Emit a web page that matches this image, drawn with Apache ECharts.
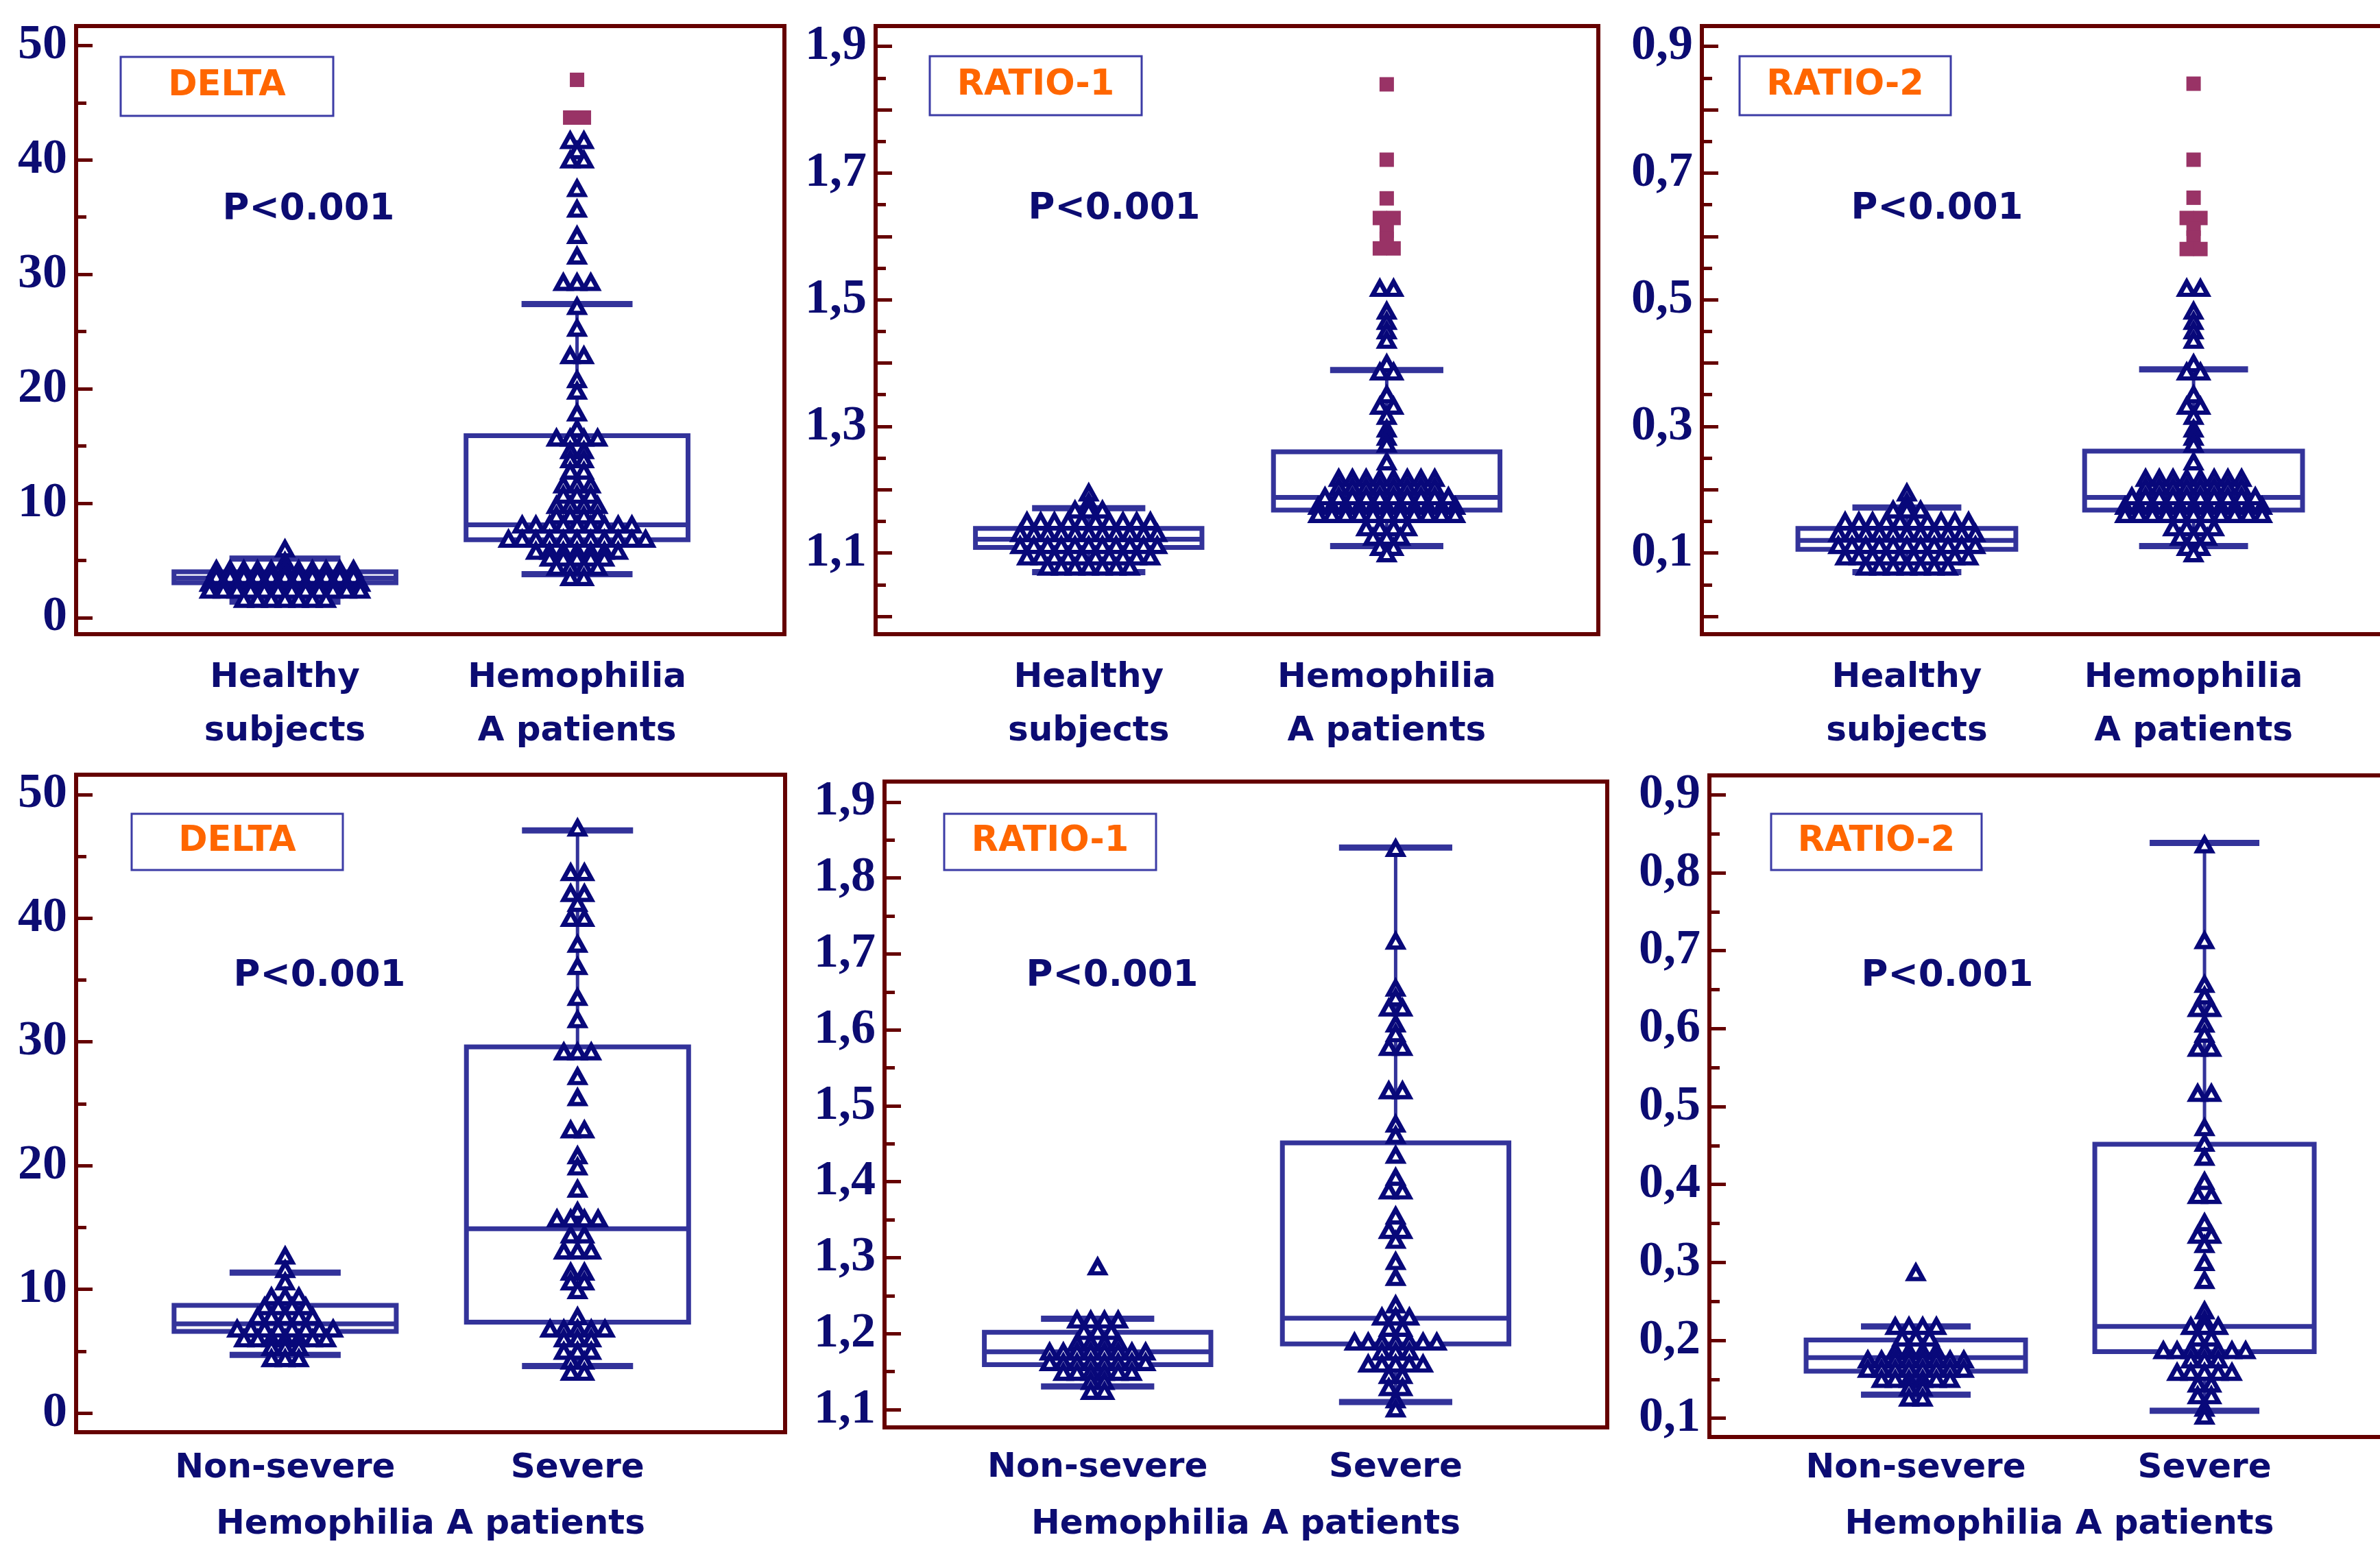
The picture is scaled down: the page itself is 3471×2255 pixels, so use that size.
<!DOCTYPE html>
<html>
<head>
<meta charset="utf-8">
<script src="https://cdn.jsdelivr.net/npm/echarts@6/dist/echarts.min.js"></script>
<style>
  html, body { margin: 0; padding: 0; background: #fff; }
  #main { width: 3471px; height: 2255px; }
</style>
</head>
<body>
<div id="main"></div>
<script>
// dot plot rows: [value, number of points side by side]
const delta1Healthy = [[6.0,1],[4.9,1],[4.2,11],[3.6,11],[3.0,12],[2.4,12],[1.6,7]];
const delta1Hemo = [[41.7,2],[40.8,1],[40.0,2],[37.5,1],[35.7,1],[33.4,1],[31.6,1],[29.3,3],[27.2,1],[25.3,1],
  [22.9,2],[20.8,1],[19.8,1],[17.9,1],[16.5,1],[15.7,4],[14.6,2],[13.8,2],[12.8,2],[11.6,3],[10.7,3],[9.8,4],
  [8.9,4],[8.1,9],[6.85,11],[5.8,7],[5.2,5],[4.4,4],[3.5,2]];
const delta1HemoOut = [[47.0,1],[43.7,2]];

const ratio1Healthy = [[1.195,1],[1.180,1],[1.168,3],[1.150,10],[1.131,11],[1.112,11],[1.094,10],[1.078,7]];
const ratio1Hemo = [[1.518,2],[1.482,1],[1.466,1],[1.451,1],[1.436,1],[1.399,1],[1.386,2],[1.350,1],[1.332,2],
  [1.316,1],[1.296,1],[1.283,1],[1.272,1],[1.244,1],[1.218,8],[1.204,8],[1.189,10],[1.174,11],[1.161,11],
  [1.140,4],[1.125,3],[1.109,2],[1.099,1]];
const ratio1HemoOut = [[1.840,1],[1.721,1],[1.660,1],[1.629,2],[1.609,1],[1.596,1],[1.581,2]];

const ratio2Healthy = [[0.195,1],[0.180,1],[0.168,3],[0.150,10],[0.131,11],[0.112,11],[0.094,10],[0.078,7]];
const ratio2Hemo = [[0.518,2],[0.482,1],[0.466,1],[0.451,1],[0.436,1],[0.399,1],[0.386,2],[0.350,1],[0.332,2],
  [0.316,1],[0.296,1],[0.283,1],[0.272,1],[0.244,1],[0.218,8],[0.204,8],[0.189,10],[0.174,11],[0.161,11],
  [0.140,4],[0.125,3],[0.109,2],[0.099,1]];
const ratio2HemoOut = [[0.841,1],[0.721,1],[0.661,1],[0.629,2],[0.612,1],[0.598,1],[0.580,2]];

const delta2NonSevere = [[12.7,1],[11.6,1],[10.6,1],[9.4,3],[8.6,4],[7.8,5],[6.8,8],[6.0,7],[5.3,3],[4.4,3]];
const delta2Severe = [[47.3,1],[43.7,2],[42.0,2],[41.2,1],[40.0,2],[37.9,1],[36.1,1],[33.6,1],[31.8,1],[29.2,3],
  [27.2,1],[25.5,1],[22.9,2],[20.8,1],[19.9,1],[18.1,1],[16.3,1],[15.7,4],[14.4,2],[13.1,3],[11.4,2],[10.6,2],
  [9.9,1],[7.8,1],[6.8,5],[6.0,3],[5.0,3],[4.2,2],[3.3,2]];

const ratio1NonSevere = [[1.288,1],[1.218,4],[1.203,3],[1.188,4],[1.176,8],[1.162,8],[1.149,6],[1.137,2],[1.124,2]];
const ratio1Severe = [[1.839,1],[1.717,1],[1.655,1],[1.642,1],[1.629,2],[1.608,1],[1.595,1],[1.577,2],[1.520,2],
  [1.476,1],[1.461,1],[1.435,1],[1.406,1],[1.388,2],[1.355,1],[1.336,2],[1.323,1],[1.295,1],[1.274,1],[1.238,1],
  [1.222,3],[1.207,2],[1.189,7],[1.176,3],[1.160,5],[1.145,2],[1.129,2],[1.113,1],[1.101,1]];

const ratio2NonSevere = [[0.287,1],[0.218,4],[0.203,3],[0.186,4],[0.175,8],[0.163,8],[0.150,6],[0.139,2],[0.126,2]];
const ratio2Severe = [[0.836,1],[0.713,1],[0.657,1],[0.642,1],[0.626,2],[0.606,1],[0.593,1],[0.575,2],[0.517,2],
  [0.473,1],[0.453,1],[0.435,1],[0.404,1],[0.386,2],[0.351,1],[0.335,2],[0.323,1],[0.300,1],[0.277,1],[0.238,1],
  [0.226,1],[0.218,3],[0.203,2],[0.187,7],[0.175,3],[0.159,5],[0.144,2],[0.129,2],[0.113,1],[0.103,1]];

// box stats: [min, q1, median, q3, max] per group
const delta1Box = [[1.4,3.05,3.45,4.0,5.15],[3.8,6.8,8.1,15.9,27.4]];
const ratio1Box = [[1.07,1.109,1.122,1.139,1.171],[1.111,1.168,1.188,1.260,1.389]];
const ratio2Box = [[0.07,0.106,0.120,0.139,0.172],[0.111,0.168,0.188,0.261,0.390]];
const delta2Box = [[4.7,6.6,7.2,8.7,11.35],[3.8,7.35,14.9,29.6,47.1]];
const ratio1SevBox = [[1.1305,1.159,1.176,1.2017,1.2196],[1.110,1.1865,1.2203,1.4512,1.840]];
const ratio2SevBox = [[0.1304,0.1604,0.1778,0.2004,0.2179],[0.1097,0.1855,0.2179,0.4517,0.8384]];

// categories
const topCats = ['Healthy\nsubjects', 'Hemophilia\nA patients'];
const bottomCats = ['Non-severe', 'Severe'];

// tick labels and tick marks
const deltaLabels = [0, 10, 20, 30, 40, 50];
const deltaMinor = [5, 15, 25, 35, 45];
const r1TopLabels = [1.1, 1.3, 1.5, 1.7, 1.9];
const r1TopMajor = [1.0, 1.1, 1.2, 1.3, 1.4, 1.5, 1.6, 1.7, 1.8, 1.9];
const r1TopMinor = [1.05, 1.15, 1.25, 1.35, 1.45, 1.55, 1.65, 1.75, 1.85];
const r2TopLabels = [0.1, 0.3, 0.5, 0.7, 0.9];
const r2TopMajor = [0, 0.1, 0.2, 0.3, 0.4, 0.5, 0.6, 0.7, 0.8, 0.9];
const r2TopMinor = [0.05, 0.15, 0.25, 0.35, 0.45, 0.55, 0.65, 0.75, 0.85];
const r1BotLabels = [1.1, 1.2, 1.3, 1.4, 1.5, 1.6, 1.7, 1.8, 1.9];
const r1BotMinor = [1.15, 1.25, 1.35, 1.45, 1.55, 1.65, 1.75, 1.85];
const r2BotLabels = [0.1, 0.2, 0.3, 0.4, 0.5, 0.6, 0.7, 0.8, 0.9];
const r2BotMinor = [0.15, 0.25, 0.35, 0.45, 0.55, 0.65, 0.75, 0.85];

// styles
const FRAME = '#650000';
const NAVY = '#0c0c72';
const BOX_COLOR = '#33339a';
const OUT_COLOR = '#993366';
const X_MIN = 0.285, X_MAX = 2.71;
const DOT_STEP = 20;

const comma = (v) => v.toFixed(1).replace('.', ',');
const plain = (v) => String(Math.round(v));

const panels = [
  { grid: { left: 111, top: 38, width: 1033, height: 887 }, yMin: -1.45, yMax: 51.7,
    labels: deltaLabels, major: deltaLabels, minor: deltaMinor, fmt: plain, cats: topCats,
    labelGap: 25, nameGap: 0,
    groups: [delta1Healthy, delta1Hemo], outliers: [[], delta1HemoOut], box: delta1Box,
    tag: 'DELTA', tagBox: [176, 83, 310, 86], p: [450, 306] },
  { grid: { left: 1277, top: 38, width: 1054, height: 887 }, yMin: 0.972, yMax: 1.932,
    labels: r1TopLabels, major: r1TopMajor, minor: r1TopMinor, fmt: comma, cats: topCats,
    labelGap: 25, nameGap: 0,
    groups: [ratio1Healthy, ratio1Hemo], outliers: [[], ratio1HemoOut], box: ratio1Box,
    tag: 'RATIO-1', tagBox: [1356, 82, 309, 86], p: [1625, 305] },
  { grid: { left: 2482, top: 38, width: 1014, height: 887 }, yMin: -0.028, yMax: 0.932,
    labels: r2TopLabels, major: r2TopMajor, minor: r2TopMinor, fmt: comma, cats: topCats,
    labelGap: 25, nameGap: 0,
    groups: [ratio2Healthy, ratio2Hemo], outliers: [[], ratio2HemoOut], box: ratio2Box,
    tag: 'RATIO-2', tagBox: [2537, 82, 308, 86], p: [2825, 305] },
  { grid: { left: 111, top: 1130, width: 1034, height: 959 }, yMin: -1.55, yMax: 51.6,
    labels: deltaLabels, major: deltaLabels, minor: deltaMinor, fmt: plain, cats: bottomCats,
    labelGap: 25, nameGap: 110,
    groups: [delta2NonSevere, delta2Severe], outliers: null, box: delta2Box,
    tag: 'DELTA', tagBox: [192, 1187, 308, 82], p: [466, 1424] },
  { grid: { left: 1290, top: 1140, width: 1054, height: 942 }, yMin: 1.0765, yMax: 1.927,
    labels: r1BotLabels, major: r1BotLabels, minor: r1BotMinor, fmt: comma, cats: bottomCats,
    labelGap: 31, nameGap: 117,
    groups: [ratio1NonSevere, ratio1Severe], outliers: null, box: ratio1SevBox,
    tag: 'RATIO-1', tagBox: [1377, 1187, 309, 82], p: [1622, 1424] },
  { grid: { left: 2493, top: 1131, width: 1021, height: 965 }, yMin: 0.076, yMax: 0.925,
    labels: r2BotLabels, major: r2BotLabels, minor: r2BotMinor, fmt: comma, cats: bottomCats,
    labelGap: 18, nameGap: 103,
    groups: [ratio2NonSevere, ratio2Severe], outliers: null, box: ratio2SevBox,
    tag: 'RATIO-2', tagBox: [2583, 1187, 307, 82], p: [2840, 1424] }
];

// spread points that share a value side by side around the group centre
function dotData(groups, step) {
  const out = [];
  groups.forEach((rows, gi) => {
    rows.forEach(([v, n]) => {
      for (let k = 0; k < n; k++) {
        out.push({ value: [gi + 1, v], symbolOffset: [(k - (n - 1) / 2) * step, 0] });
      }
    });
  });
  return out;
}

function renderBox(params, api) {
  const x = api.value(0);
  const lo = api.coord([x, api.value(1)]);
  const q1 = api.coord([x, api.value(2)]);
  const md = api.coord([x, api.value(3)]);
  const q3 = api.coord([x, api.value(4)]);
  const hi = api.coord([x, api.value(5)]);
  const bw = api.size([0.38, 0])[0];
  const cw = api.size([0.19, 0])[0];
  const line = (x1, y1, x2, y2, w) => ({
    type: 'line', shape: { x1, y1, x2, y2 }, style: { stroke: BOX_COLOR, lineWidth: w }
  });
  return {
    type: 'group',
    children: [
      line(lo[0], lo[1], lo[0], q1[1], 5),
      line(hi[0], hi[1], hi[0], q3[1], 5),
      line(lo[0] - cw, lo[1], lo[0] + cw, lo[1], 9),
      line(hi[0] - cw, hi[1], hi[0] + cw, hi[1], 9),
      { type: 'rect', shape: { x: q3[0] - bw, y: q3[1], width: 2 * bw, height: q1[1] - q3[1] },
        style: { fill: 'none', stroke: BOX_COLOR, lineWidth: 7 } },
      line(md[0] - bw, md[1], md[0] + bw, md[1], 7)
    ]
  };
}

const grids = [], xAxes = [], yAxes = [], series = [], graphics = [];
const labelFont = { color: NAVY, fontFamily: 'DejaVu Sans', fontWeight: 'bold', fontSize: 50 };

panels.forEach((p, i) => {
  const twoLine = p.cats === topCats;
  grids.push(Object.assign({ show: true, borderColor: FRAME, borderWidth: 6,
    backgroundColor: 'transparent', containLabel: false, outerBoundsMode: 'none' }, p.grid));

  xAxes.push({
    gridIndex: i, type: 'value', min: X_MIN, max: X_MAX,
    axisLine: { show: false }, axisTick: { show: false }, splitLine: { show: false },
    axisLabel: Object.assign({
      customValues: [1, 2], formatter: (v) => p.cats[Math.round(v) - 1],
      margin: p.labelGap, lineHeight: twoLine ? 78 : 56
    }, labelFont),
    name: twoLine ? '' : 'Hemophilia A patients',
    nameLocation: 'middle', nameGap: p.nameGap,
    nameTextStyle: labelFont
  });

  // labelled axis with long ticks
  yAxes.push({
    gridIndex: i, type: 'value', position: 'left', min: p.yMin, max: p.yMax,
    axisLine: { show: false }, splitLine: { show: false },
    axisTick: { show: true, inside: true, length: 24, customValues: p.major,
      lineStyle: { color: FRAME, width: 5 } },
    axisLabel: { customValues: p.labels, formatter: p.fmt, margin: 13, color: NAVY,
      fontFamily: 'Liberation Serif', fontWeight: 'bold', fontSize: 72 }
  });
  // second axis only for the short ticks
  yAxes.push({
    gridIndex: i, type: 'value', position: 'left', min: p.yMin, max: p.yMax,
    axisLine: { show: false }, splitLine: { show: false }, axisLabel: { show: false },
    axisTick: { show: true, inside: true, length: 15, customValues: p.minor,
      lineStyle: { color: FRAME, width: 5 } }
  });

  series.push({
    type: 'custom', xAxisIndex: i, yAxisIndex: 2 * i, z: 2, silent: true,
    renderItem: renderBox,
    data: p.box.map((b, gi) => [gi + 1].concat(b))
  });
  series.push({
    type: 'scatter', xAxisIndex: i, yAxisIndex: 2 * i, z: 3, silent: true,
    symbol: 'triangle', symbolSize: [21, 19],
    itemStyle: { color: '#ffffff', borderColor: '#08087a', borderWidth: 6.5, opacity: 1 },
    data: dotData(p.groups, DOT_STEP)
  });
  if (p.outliers) {
    series.push({
      type: 'scatter', xAxisIndex: i, yAxisIndex: 2 * i, z: 3, silent: true,
      symbol: 'rect', symbolSize: 21,
      itemStyle: { color: OUT_COLOR, opacity: 1 },
      data: dotData(p.outliers, 20)
    });
  }

  const [bx, by, bwid, bh] = p.tagBox;
  graphics.push({
    type: 'rect', z: 100, shape: { x: bx, y: by, width: bwid, height: bh },
    style: { fill: '#ffffff', stroke: '#3c3ca6', lineWidth: 3 }
  });
  graphics.push({
    type: 'text', z: 101, x: bx + bwid / 2, y: by + bh / 2,
    style: { text: p.tag, fill: '#ff6600', font: 'bold 51px "DejaVu Sans"',
      align: 'center', verticalAlign: 'middle' }
  });
  graphics.push({
    type: 'text', z: 101, x: p.p[0], y: p.p[1],
    style: { text: 'P<0.001', fill: NAVY, font: 'bold 53px "DejaVu Sans"',
      align: 'center', verticalAlign: 'middle' }
  });
});

const myChart = echarts.init(document.getElementById('main'));
myChart.setOption({
  animation: false,
  backgroundColor: '#ffffff',
  grid: grids,
  xAxis: xAxes,
  yAxis: yAxes,
  series: series,
  graphic: graphics
});
</script>
</body>
</html>
